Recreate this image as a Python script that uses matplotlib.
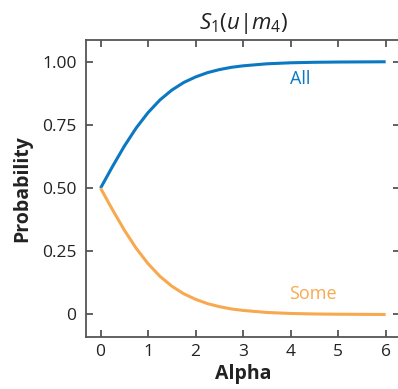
import matplotlib
matplotlib.use("Agg")
import matplotlib.pyplot as plt

# Data
alpha = [0, 0.25, 0.5, 0.75, 1.0, 1.25, 1.5, 1.75, 2.0, 2.25, 2.5, 2.75, 3.0,
         3.5, 4.0, 4.5, 5.0, 5.5, 6.0]
p_all = [0.500, 0.585, 0.666, 0.738, 0.799, 0.849, 0.888, 0.918, 0.940, 0.957,
         0.969, 0.978, 0.984, 0.992, 0.996, 0.998, 0.999, 0.9995, 1.000]
p_some = [0.500, 0.415, 0.334, 0.262, 0.201, 0.151, 0.112, 0.082, 0.060, 0.043,
          0.031, 0.022, 0.016, 0.008, 0.004, 0.002, 0.001, 0.0005, 0.000]
series_names = ["All", "Some"]
xticks = [0, 1, 2, 3, 4, 5, 6]
yticks = [0, 0.25, 0.5, 0.75, 1.0]
ytick_labels = ["0", "0.25", "0.50", "0.75", "1.00"]

plt.rcParams['font.family'] = ['Open Sans', 'DejaVu Sans']
plt.rcParams['mathtext.fontset'] = 'custom'
plt.rcParams['mathtext.it'] = 'Open Sans:italic'
plt.rcParams['mathtext.rm'] = 'Open Sans'

blue = '#0b78c2'
orange = '#f8a94f'
gray = '#555555'
txt = '#222222'

fig = plt.figure(figsize=(3.98, 3.89), dpi=100)
ax = fig.add_axes([0.2168, 0.1344, 1.0048 - 0.2168, 0.8964 - 0.1344])

ax.plot(alpha, p_all, color=blue, lw=2.2, solid_capstyle='butt')
ax.plot(alpha, p_some, color=orange, lw=2.2, solid_capstyle='butt')

ax.text(4.21, 0.930, series_names[0], color=blue, fontsize=13, ha='center', va='center')
ax.text(4.47, 0.082, series_names[1], color=orange, fontsize=13, ha='center', va='center')

ax.set_xlim(-0.3, 6.3)
ax.set_ylim(-0.088, 1.085)
ax.set_xticks(xticks)
ax.set_yticks(yticks)
ax.set_yticklabels(ytick_labels)

for s in ax.spines.values():
    s.set_color(gray)
    s.set_linewidth(1.3)
ax.spines['right'].set_visible(False)

ax.tick_params(axis='both', direction='in', length=5, width=1.3, color=gray,
               labelsize=12.5, labelcolor=txt, top=True, right=True)
ax.tick_params(axis='y', pad=7)
ax.tick_params(axis='x', pad=5)

ax.set_title(r'$S_1(u|m_4)$', fontsize=16, color=txt, pad=8)
ax.set_xlabel('Alpha', fontsize=14, fontweight='bold', color=txt, labelpad=3)
ax.set_ylabel('Probability', fontsize=14, fontweight='bold', color=txt, labelpad=7)

fig.savefig('out.png', dpi=100)
